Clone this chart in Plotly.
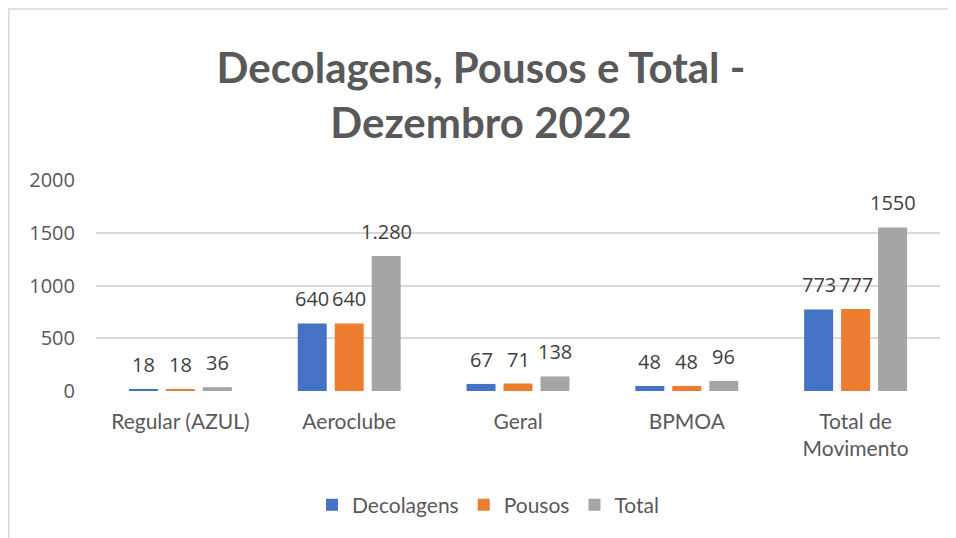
import plotly.graph_objects as go

categories = ["Regular (AZUL)", "Aeroclube", "Geral", "BPMOA", "Total de<br>Movimento"]
decolagens = [18, 640, 67, 48, 773]
pousos = [18, 640, 71, 48, 777]
total = [36, 1280, 138, 96, 1550]
total_labels = ["36", "1.280", "138", "96", "1550"]
y_ticks = [0, 500, 1000, 1500, 2000]

series = [
    ("Decolagens", decolagens, [str(v) for v in decolagens], "#4472C4"),
    ("Pousos", pousos, [str(v) for v in pousos], "#ED7D31"),
    ("Total", total, total_labels, "#A5A5A5"),
]

# page has an 8px body margin, so the figure is sized to fit the window
W, H = 948, 530
L, R, T, B = 88, 16, 172, 147
PW, PH = W - L - R, H - T - B
FONT = "Open Sans"
TXT = "#595959"

fig = go.Figure()
xs = list(range(len(categories)))
for name, vals, labels, color in series:
    fig.add_trace(go.Bar(x=xs, y=vals, name=name, marker=dict(color=color, line=dict(width=0))))

slot = 0.219
annotations = []
for k, (name, vals, labels, color) in enumerate(series):
    for i, (v, lab) in enumerate(zip(vals, labels)):
        annotations.append(dict(
            x=i + (k - 1) * slot, y=v, xref="x", yref="y", text=lab, showarrow=False,
            yanchor="bottom", yshift=9, font=dict(family=FONT, size=20, color="#404040")))

fig.update_layout(
    width=W, height=H,
    margin=dict(l=L, r=R, t=T, b=B),
    paper_bgcolor="white", plot_bgcolor="white",
    barmode="group", bargap=0.343, bargroupgap=0.216,
    title=dict(text="<b>Decolagens, Pousos e Total -<br>Dezembro 2022</b>",
               x=(481 - 8) / W, xanchor="center",
               y=1 - 75 / H, yanchor="middle",
               font=dict(family="Lato", size=42, color=TXT)),
    xaxis=dict(range=[-0.5, 4.5], tickmode="array", tickvals=xs, ticktext=categories,
               showgrid=False, zeroline=False, showline=False, ticks="",
               ticklabelstandoff=16,
               tickfont=dict(family="Lato", size=21, color=TXT)),
    yaxis=dict(range=[0, 2000], tickmode="array", tickvals=y_ticks,
               showgrid=True, gridcolor="#D9D9D9", gridwidth=2, zeroline=False,
               showline=False, ticks="", ticklabelstandoff=20,
               tickfont=dict(family=FONT, size=20, color=TXT)),
    legend=dict(orientation="h", x=(488 - 8 - L) / PW, xanchor="center",
                y=(H - B - 497) / PH, yanchor="middle",
                font=dict(family="Lato", size=21, color=TXT), itemwidth=30,
                traceorder="normal"),
    annotations=annotations,
    shapes=[dict(type="rect", xref="paper", yref="paper",
                 x0=(0.8 - L) / PW, x1=(W + 10 - L) / PW,
                 y0=(H - B - H - 20) / PH, y1=(H - B - 1) / PH,
                 line=dict(color="#D9D9D9", width=1.5), layer="below")],
)

fig.write_html("out.html")
